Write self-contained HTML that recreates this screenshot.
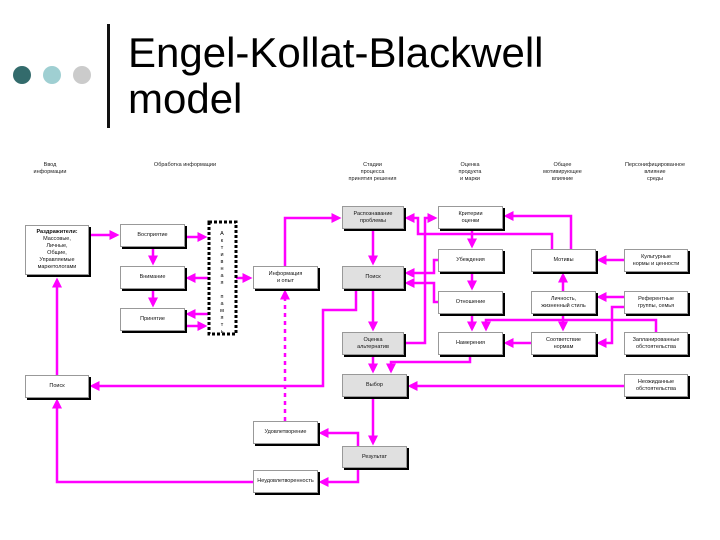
<!DOCTYPE html>
<html><head><meta charset="utf-8">
<style>
body{margin:0;width:720px;height:540px;background:#fff;overflow:hidden;position:relative;font-family:"Liberation Sans",sans-serif;}
.b{position:absolute;background:#fff;border:1px solid #999;box-shadow:2px 2px 0 #000;font-size:5.5px;line-height:7px;text-align:center;display:flex;align-items:center;justify-content:center;box-sizing:border-box;color:#111;}
.g{background:#e0e0e0;}
.h{position:absolute;font-size:5.5px;line-height:7px;text-align:center;color:#222;}
.dot{position:absolute;width:18px;height:18px;border-radius:50%;top:66px;}
</style></head><body>
<div class="dot" style="left:13px;background:#336b6c"></div>
<div class="dot" style="left:43px;background:#9fcfd2"></div>
<div class="dot" style="left:73px;background:#cbcbcb"></div>
<div style="position:absolute;left:107px;top:24px;width:3px;height:104px;background:#111"></div>
<div style="position:absolute;left:128px;top:30px;font-size:42px;line-height:46px;color:#000">Engel-Kollat-Blackwell<br>model</div>

<div class="h" style="left:20px;top:162px;width:60px">Ввод<br>информации</div>
<div class="h" style="left:130px;top:162px;width:110px">Обработка информации</div>
<div class="h" style="left:335px;top:162px;width:75px">Стадии<br>процесса<br>принятия решения</div>
<div class="h" style="left:440px;top:162px;width:60px">Оценка<br>продукта<br>и марки</div>
<div class="h" style="left:530px;top:162px;width:65px">Общее<br>мотивирующее<br>влияние</div>
<div class="h" style="left:615px;top:162px;width:80px">Персонифицированное<br>влияние<br>среды</div>

<svg width="720" height="540" style="position:absolute;left:0;top:0">
<defs><marker id="a" markerWidth="4" markerHeight="4" refX="3" refY="2" orient="auto" markerUnits="strokeWidth"><path d="M0,0 L4,2 L0,4z" fill="#f0f"/></marker></defs>
<g fill="none" stroke="#f0f" stroke-width="2.5" marker-end="url(#a)">
<path d="M89 235H117"/><path d="M185 237H205"/><path d="M153 247V263"/><path d="M208 278H188"/>
<path d="M153 289V305"/><path d="M208 314H188"/><path d="M185 326H205"/><path d="M236 278H250"/>
<path d="M285 266V218H339"/>
<path d="M57 375V280"/>
<path d="M356 289V310H323V386H92"/>
<path d="M373 229V263"/><path d="M373 289V329"/><path d="M373 355V371"/>
<path d="M470 355V362H391V371"/>
<path d="M404 343H425V218H435"/>
<path d="M552 249V234H418V218H407"/>
<path d="M571 249V216H506"/>
<path d="M472 229V246"/><path d="M438 260H434V273H407"/><path d="M438 302H434V283H407"/>
<path d="M472 272V288"/><path d="M472 314V329"/>
<path d="M624 260H599"/><path d="M563 291V275"/><path d="M624 297H599"/>
<path d="M624 307H612V343H599"/><path d="M563 314V329"/>
<path d="M656 332V320H486V329"/><path d="M531 343H506"/>
<path d="M624 386H410"/><path d="M373 397V443"/>
<path d="M358 446V433H321"/><path d="M358 468V482H321"/>
<path d="M253 482H57V401"/>
<path d="M285 421V292" stroke-dasharray="4,4"/>
</g>
<rect x="209" y="222" width="27" height="112" fill="none" stroke="#000" stroke-width="3" stroke-dasharray="3,2"/>
<text x="222" y="235" font-size="5.5" font-family="Liberation Sans" text-anchor="middle">
<tspan x="222" dy="0">А</tspan><tspan x="222" dy="7">к</tspan><tspan x="222" dy="7">т</tspan><tspan x="222" dy="7">и</tspan><tspan x="222" dy="7">в</tspan><tspan x="222" dy="7">н</tspan><tspan x="222" dy="7">а</tspan><tspan x="222" dy="7">я</tspan><tspan x="222" dy="14">п</tspan><tspan x="222" dy="7">а</tspan><tspan x="222" dy="7">м</tspan><tspan x="222" dy="7">я</tspan><tspan x="222" dy="7">т</tspan><tspan x="222" dy="7">ь</tspan></text>
</svg>

<div class="b" style="left:25px;top:225px;width:64px;height:50px"><div><b>Раздражители:</b><br>Массовые,<br>Личные,<br>Общие,<br>Управляемые<br>маркетологами</div></div>
<div class="b" style="left:120px;top:224px;width:65px;height:23px">Восприятие</div>
<div class="b" style="left:120px;top:266px;width:65px;height:23px">Внимание</div>
<div class="b" style="left:120px;top:308px;width:65px;height:23px">Принятие</div>
<div class="b" style="left:253px;top:266px;width:65px;height:23px">Информация<br>и опыт</div>
<div class="b g" style="left:342px;top:206px;width:62px;height:23px">Распознавание<br>проблемы</div>
<div class="b g" style="left:342px;top:266px;width:62px;height:23px">Поиск</div>
<div class="b g" style="left:342px;top:332px;width:62px;height:23px">Оценка<br>альтернатив</div>
<div class="b" style="left:438px;top:206px;width:65px;height:23px">Критерии<br>оценки</div>
<div class="b" style="left:438px;top:249px;width:65px;height:23px">Убеждения</div>
<div class="b" style="left:438px;top:291px;width:65px;height:23px">Отношение</div>
<div class="b" style="left:438px;top:332px;width:65px;height:23px">Намерения</div>
<div class="b" style="left:531px;top:249px;width:65px;height:23px">Мотивы</div>
<div class="b" style="left:531px;top:291px;width:65px;height:23px">Личность,<br>жизненный стиль</div>
<div class="b" style="left:531px;top:332px;width:65px;height:23px">Соответствие<br>нормам</div>
<div class="b" style="left:624px;top:249px;width:64px;height:23px">Культурные<br>нормы и ценности</div>
<div class="b" style="left:624px;top:291px;width:64px;height:23px">Референтные<br>группы, семья</div>
<div class="b" style="left:624px;top:332px;width:64px;height:23px">Запланированные<br>обстоятельства</div>
<div class="b" style="left:25px;top:375px;width:64px;height:23px">Поиск</div>
<div class="b g" style="left:342px;top:374px;width:65px;height:23px">Выбор</div>
<div class="b" style="left:624px;top:374px;width:64px;height:23px">Неожиданные<br>обстоятельства</div>
<div class="b" style="left:253px;top:421px;width:65px;height:23px">Удовлетворение</div>
<div class="b g" style="left:342px;top:446px;width:65px;height:22px">Результат</div>
<div class="b" style="left:253px;top:470px;width:65px;height:23px">Неудовлетворенность</div>
</body></html>
